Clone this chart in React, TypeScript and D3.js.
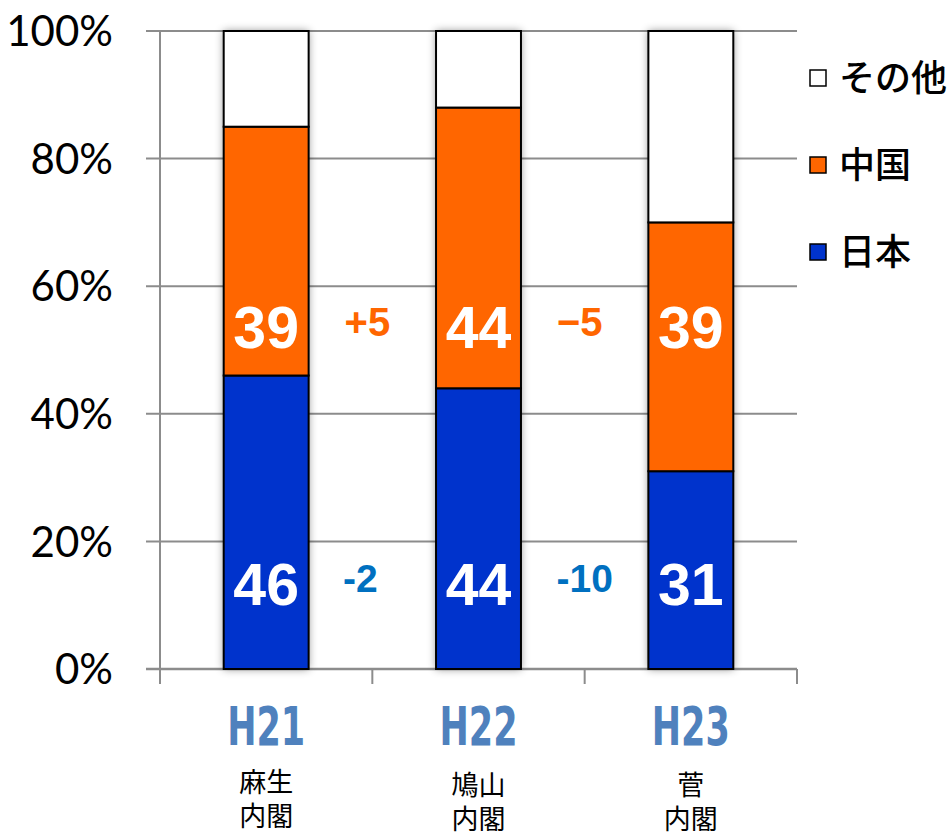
import React from 'react';
import * as d3 from 'd3';

// Categories (fiscal year) and the cabinet under each
const years = ['H21', 'H22', 'H23'];
const cabinets = [
  ['麻生', '内閣'],
  ['鳩山', '内閣'],
  ['菅', '内閣'],
];

// Series values, in percent
const japan = [46, 44, 31];
const china = [39, 44, 39];
const other = [15, 12, 30];

// Change between consecutive years
const chinaDiff = ['+5', '−5'];
const japanDiff = ['-2', '-10'];

const yTicks = [0, 20, 40, 60, 80, 100];

const series = [
  {name: '日本', values: japan, color: '#0033CC'},
  {name: '中国', values: china, color: '#FF6600'},
  {name: 'その他', values: other, color: '#FFFFFF'},
];

const W = 951;
const H = 832;

export default function App() {
  const x = d3
    .scaleBand<string>()
    .domain(years)
    .range([160, 797])
    .paddingInner(0.6)
    .paddingOuter(0.3);
  const y = d3.scaleLinear().domain([0, 100]).range([669, 31]);

  const rows = years.map((yr, i) => ({
    yr,
    japan: japan[i],
    china: china[i],
    other: other[i],
  }));
  const stack = d3
    .stack<any>()
    .keys(['japan', 'china', 'other'])(rows);

  const boundary = (i: number) => (x(years[i])! + x(years[i + 1])!) / 2 + x.bandwidth() / 2;

  return (
    <svg
      width={W}
      height={H}
      style={{position: 'absolute', left: 0, top: 0, background: '#fff'}}
    >
      <defs>
        <filter id="glow" x="-30%" y="-10%" width="160%" height="120%">
          <feDropShadow dx="0" dy="0" stdDeviation="4" floodColor="#000" floodOpacity="0.45" />
        </filter>
      </defs>

      {/* grid lines */}
      {yTicks.map((t) => (
        <line
          key={t}
          x1={146}
          x2={797}
          y1={y(t)}
          y2={y(t)}
          stroke="#8c8c8c"
          strokeWidth={t === 0 ? 2.5 : 2}
        />
      ))}
      {/* y axis */}
      <line x1={160} x2={160} y1={y(100)} y2={684} stroke="#8c8c8c" strokeWidth={2} />
      {/* category ticks */}
      {[0, 1, 2, 3].map((i) => (
        <line
          key={i}
          x1={160 + (i * (797 - 160)) / 3}
          x2={160 + (i * (797 - 160)) / 3}
          y1={669}
          y2={684}
          stroke="#8c8c8c"
          strokeWidth={2}
        />
      ))}

      {/* y tick labels */}
      {yTicks.map((t) => (
        <text
          key={t}
          x={113}
          y={y(t)}
          dy="0.36em"
          textAnchor="end"
          fontFamily="Lato, 'Open Sans', sans-serif"
          fontSize={42}
          fill="#000"
        >
          {t}%
        </text>
      ))}

      {/* bars */}
      {years.map((yr, i) => (
        <g key={yr}>
          <rect
            x={x(yr)}
            y={y(100)}
            width={x.bandwidth()}
            height={y(0) - y(100)}
            fill="#fff"
            filter="url(#glow)"
          />
          {stack.map((layer, k) => (
            <rect
              key={k}
              x={x(yr)}
              y={y(layer[i][1])}
              width={x.bandwidth()}
              height={y(layer[i][0]) - y(layer[i][1])}
              fill={series[k].color}
              stroke="#000"
              strokeWidth={2}
            />
          ))}
        </g>
      ))}

      {/* value labels inside bars */}
      {years.map((yr, i) => (
        <g
          key={yr}
          fontFamily="'Liberation Sans', Arial, sans-serif"
          fontWeight="bold"
          fontSize={59}
          fill="#fff"
          textAnchor="middle"
        >
          <text x={x(yr)! + x.bandwidth() / 2} y={y(53.6)} dy="0.36em">
            {china[i]}
          </text>
          <text x={x(yr)! + x.bandwidth() / 2} y={y(13.3)} dy="0.36em">
            {japan[i]}
          </text>
        </g>
      ))}

      {/* change labels between bars */}
      {chinaDiff.map((d, i) => (
        <text
          key={'c' + i}
          x={boundary(i) - 5}
          y={y(54.5)}
          dy="0.36em"
          textAnchor="middle"
          fontFamily="'Liberation Sans', Arial, sans-serif"
          fontWeight="bold"
          fontSize={40}
          fill="#FF6600"
        >
          {d}
        </text>
      ))}
      {japanDiff.map((d, i) => (
        <text
          key={'j' + i}
          x={boundary(i) - (i === 0 ? 12 : 0)}
          y={y(14.3)}
          dy="0.36em"
          textAnchor="middle"
          fontFamily="'Liberation Sans', Arial, sans-serif"
          fontWeight="bold"
          fontSize={39}
          fill="#0070C0"
        >
          {d}
        </text>
      ))}

      {/* category labels */}
      {years.map((yr, i) => {
        const cx = x(yr)! + x.bandwidth() / 2;
        return (
          <g key={yr}>
            <text
              x={cx}
              y={745}
              textAnchor="middle"
              fontFamily="'DejaVu Sans', sans-serif"
              fontWeight="bold"
              fontSize={54}
              fill="#4F81BD"
              textLength={78}
              lengthAdjust="spacingAndGlyphs"
            >
              {yr}
            </text>
            {cabinets[i].map((line, j) => (
              <text
                key={j}
                x={cx}
                y={795 + j * 34 + (i === 0 ? -3 : 0)}
                textAnchor="middle"
                fontFamily="'Noto Sans CJK JP', sans-serif"
                fontSize={27}
                fill="#000"
              >
                {line}
              </text>
            ))}
          </g>
        );
      })}

      {/* legend */}
      {[...series].reverse().map((s, k) => {
        const cy = 78 + k * 87;
        return (
          <g key={s.name}>
            <rect x={810} y={cy - 8} width={16} height={16} fill={s.color} stroke="#000" strokeWidth={1.5} />
            <text
              x={839}
              y={cy}
              dy="0.36em"
              fontFamily="'Noto Sans CJK JP', sans-serif"
              fontWeight={500}
              fontSize={36}
              fill="#000"
            >
              {s.name}
            </text>
          </g>
        );
      })}
    </svg>
  );
}
